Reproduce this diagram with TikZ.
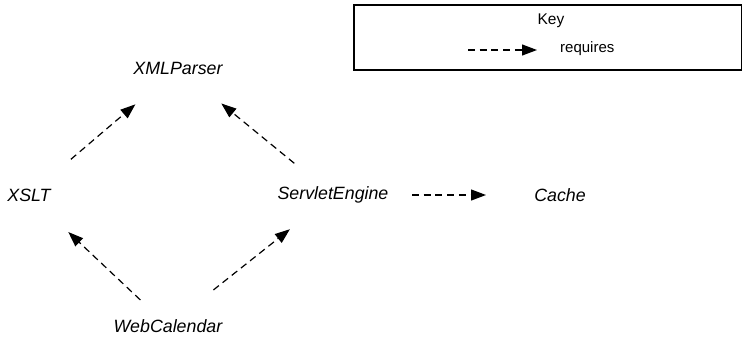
\documentclass[tikz,border=0pt]{standalone}
\usepackage{fontspec}
\setmainfont{Liberation Sans}
\usetikzlibrary{arrows.meta}

\tikzset{
  component/.style={font=\fontsize{17.8}{20}\selectfont\itshape, inner sep=0pt},
  requires/.style={dash pattern=on 7pt off 4.7pt, line width=1.2pt,
    -{Triangle[length=15pt,width=11pt]}},
}

\begin{document}
\begin{tikzpicture}[x=1pt,y=-1pt]
  \useasboundingbox (0,0) rectangle (742,338);

  % legend
  \draw[line width=1.4pt] (354,5) rectangle (741.5,70);
  \node[font=\fontsize{15.5}{18}\selectfont] (keytitle) at (551,21) {Key};
  \coordinate (keyfrom) at (468,50);
  \coordinate (keyto) at (537,50);
  \draw[requires] (keyfrom) -- (keyto);
  \node[font=\fontsize{15}{18}\selectfont, anchor=west, inner sep=0pt] (keylabel) at (560,49) {requires};

  % components
  \node[component] (xml) at (178,68) {XMLParser};
  \node[component] (xslt) at (29,195) {XSLT};
  \node[component] (servlet) at (333,195) {ServletEngine};
  \node[component] (cache) at (560,195) {Cache};
  \node[component] (webcal) at (168,326) {WebCalendar};

  % dependencies
  \draw[requires, shorten <=55pt, shorten >=56pt] (xslt.center) -- (xml.center);
  \draw[requires, shorten <=50pt, shorten >=56pt] (servlet.center) -- (xml.center);
  \draw[requires, shorten <=79pt, shorten >=74pt] (servlet.center) -- (cache.center);
  \draw[requires, shorten <=38pt, shorten >=54pt] (webcal.center) -- (xslt.center);
  \draw[requires, shorten <=58pt, shorten >=55pt] (webcal.center) -- (servlet.center);
\end{tikzpicture}
\end{document}
